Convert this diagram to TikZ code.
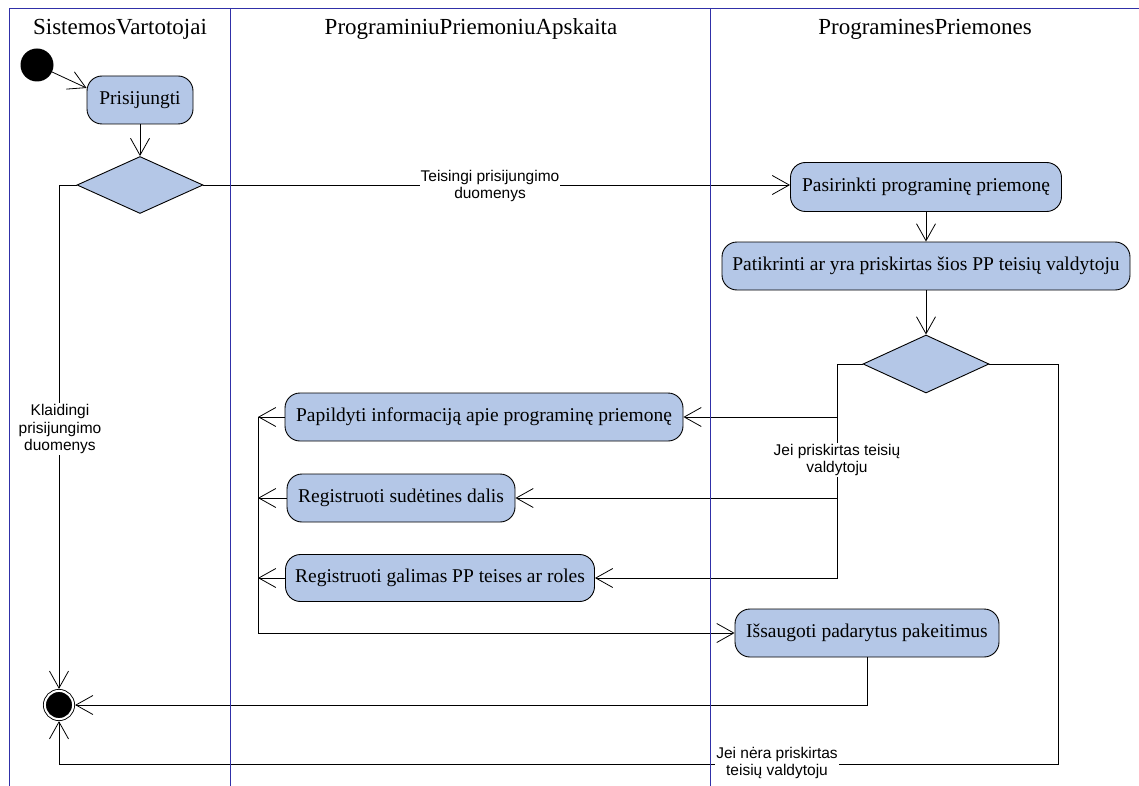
\documentclass[tikz,border=0pt]{standalone}
\usepackage{fontspec}
\setmainfont{Liberation Serif}
\newfontfamily\labelfont{Liberation Sans}
\usetikzlibrary{shapes.geometric,arrows.meta}

\definecolor{actfill}{RGB}{180,199,231}
\definecolor{lanecol}{RGB}{48,48,168}

\begin{document}
\begin{tikzpicture}[x=1pt,y=-1pt,
  action/.style={draw=black, line width=0.9pt, fill=actfill, rounded corners=15pt,
    minimum height=48pt, inner sep=0pt, font=\fontsize{19.5}{22}\selectfont},
  decision/.style={diamond, draw=black, line width=0.9pt, fill=actfill, inner sep=0pt,
    minimum width=126pt, minimum height=57pt},
  flow/.style={draw=black, line width=0.8pt, -{Straight Barb[length=17pt,width=19pt]}},
  guard/.style={fill=white, inner sep=1pt, align=center,
    font=\labelfont\fontsize{15.5}{17.5}\selectfont},
  lane/.style={draw=lanecol, line width=0.9pt},
  lanetitle/.style={font=\fontsize{23}{26}\selectfont}]

\useasboundingbox (0,0) rectangle (1139,786);

% lane titles
\node[lanetitle] (t1) at (120,29) {SistemosVartotojai};
\node[lanetitle] (t2) at (471,29) {PrograminiuPriemoniuApskaita};
\node[lanetitle] (t3) at (925,29) {PrograminesPriemones};

% start and end
\node[circle, fill=black, minimum size=33pt, inner sep=0pt] (start) at (37,65) {};
\node[circle, draw=black, line width=0.9pt, double=white, double distance=2pt,
      fill=black, minimum size=28.2pt, inner sep=0pt, outer sep=2pt] (final) at (59,705) {};

% activities
\node[action, minimum width=106pt] (prisijungti) at (140,100) {Prisijungti};
\node[decision] (d1) at (140,185) {};
\node[action, minimum width=271pt, minimum height=49pt] (pasirinkti) at (926,187) {Pasirinkti programinę priemonę};
\node[action, minimum width=408pt] (patikrinti) at (926,266) {Patikrinti ar yra priskirtas šios PP teisių valdytoju};
\node[decision, minimum height=58pt] (d2) at (926,364) {};
\node[action, minimum width=398pt] (papildyti) at (484,417) {Papildyti informaciją apie programinę priemonę};
\node[action, minimum width=228pt] (sudetines) at (401,498) {Registruoti sudėtines dalis};
\node[action, minimum width=309pt, minimum height=47pt] (galimas) at (440,578) {Registruoti galimas PP teises ar roles};
\node[action, minimum width=264pt] (issaugoti) at (867,633) {Išsaugoti padarytus pakeitimus};

% routing points
\coordinate (jtop) at (837,364);
\coordinate (lbus) at (258,0);
\coordinate (rturn) at (1058,764);

% flows
\draw[flow] (start) -- ([yshift=12pt]prisijungti.west);
\draw[flow] (prisijungti.south) -- (d1.north);
\draw[flow] (d1.east) -- (d1.east -| pasirinkti.west);
\draw[flow] (d1.west) -| (final.north);
\draw[flow] (pasirinkti.south) -- (patikrinti.north);
\draw[flow] (patikrinti.south) -- (d2.north);
\draw[flow] (d2.west) -- (jtop) |- (galimas.east);
\draw[flow] (jtop |- papildyti.east) -- (papildyti.east);
\draw[flow] (jtop |- sudetines.east) -- (sudetines.east);
\draw[flow] (papildyti.west) -- (papildyti.west -| lbus);
\draw[flow] (sudetines.west) -- (sudetines.west -| lbus);
\draw[flow] (galimas.west) -- (galimas.west -| lbus);
\draw[flow] (papildyti.west -| lbus) |- (issaugoti.west);
\draw[flow] (issaugoti.south) |- (final.east);
\draw[flow] (d2.east) -| (rturn) -| (final.south);

% guard labels
\node[guard] (gok) at (490,186) {Teisingi prisijungimo\\duomenys};
\node[guard] (gbad) at (60,429) {Klaidingi\\prisijungimo\\duomenys};
\node[guard] (gyes) at (837,460) {Jei priskirtas teisių\\valdytoju};
\node[guard] (gno) at (777,763) {Jei nėra priskirtas\\teisių valdytoju};

% swimlane borders
\draw[lane] (9,786) -- (9,8) -- (1139,8);
\draw[lane] (230,8) -- (230,786);
\draw[lane] (710,8) -- (710,786);
\end{tikzpicture}
\end{document}
